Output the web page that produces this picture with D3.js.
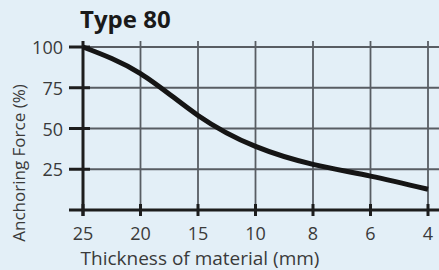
<!DOCTYPE html>
<html>
<head>
<meta charset="utf-8">
<script src="https://cdn.jsdelivr.net/npm/d3@7"></script>
<style>
  body { margin: 0; background: #e3eff7; }
  svg { display: block; }
  text { font-family: "Open Sans", "DejaVu Sans", sans-serif; fill: #3a3a3a; }
</style>
</head>
<body>
<div id="chart"></div>
<script>
// thickness categories (mm) along the x axis, left to right
var thickness = ["25", "20", "15", "10", "8", "6", "4"];
// anchoring force in percent
var force = [100, 83.7, 58, 39, 28, 20.8, 12.7];
var yTicks = [25, 50, 75, 100];

var width = 439, height = 270;
var margin = { top: 47, right: 11, bottom: 60, left: 83 };

var svg = d3.select("#chart")
    .append("svg")
    .attr("width", width)
    .attr("height", height);

var x = d3.scalePoint().domain(thickness).range([margin.left, width - margin.right]);
var y = d3.scaleLinear().domain([0, 100]).range([height - margin.bottom, margin.top]);

var gridColor = "#585d63";
var axisColor = "#1d1d1d";

// vertical grid lines
svg.append("g")
    .selectAll("line")
    .data(thickness.slice(1))
    .enter()
    .append("line")
    .attr("x1", d => x(d)).attr("x2", d => x(d))
    .attr("y1", y(100) - 6).attr("y2", y(0))
    .attr("stroke", gridColor)
    .attr("stroke-width", 1.8);

// horizontal grid lines
svg.append("g")
    .selectAll("line")
    .data(yTicks)
    .enter()
    .append("line")
    .attr("x1", x("25")).attr("x2", width)
    .attr("y1", d => y(d)).attr("y2", d => y(d))
    .attr("stroke", gridColor)
    .attr("stroke-width", 1.8);

// left axis line and ticks
svg.append("line")
    .attr("x1", x("25")).attr("x2", x("25"))
    .attr("y1", y(100) - 6).attr("y2", y(0) + 6)
    .attr("stroke", axisColor)
    .attr("stroke-width", 3);

svg.append("g")
    .selectAll("line")
    .data(yTicks)
    .enter()
    .append("line")
    .attr("x1", x("25") - 14).attr("x2", x("25") + 7)
    .attr("y1", d => y(d)).attr("y2", d => y(d))
    .attr("stroke", axisColor)
    .attr("stroke-width", 3);

// bottom axis line and ticks
svg.append("line")
    .attr("x1", x("25") - 14).attr("x2", width)
    .attr("y1", y(0)).attr("y2", y(0))
    .attr("stroke", axisColor)
    .attr("stroke-width", 3);

svg.append("g")
    .selectAll("line")
    .data(thickness)
    .enter()
    .append("line")
    .attr("x1", d => x(d)).attr("x2", d => x(d))
    .attr("y1", y(0) - 6).attr("y2", y(0) + 6)
    .attr("stroke", axisColor)
    .attr("stroke-width", 3);

// tick labels
svg.append("g")
    .selectAll("text")
    .data(yTicks)
    .enter()
    .append("text")
    .attr("x", 63)
    .attr("y", d => y(d) + 7)
    .attr("text-anchor", "end")
    .style("font-size", "18px")
    .text(d => d);

svg.append("g")
    .selectAll("text")
    .data(thickness)
    .enter()
    .append("text")
    .attr("x", d => x(d))
    .attr("y", 240)
    .attr("text-anchor", "middle")
    .style("font-size", "18px")
    .text(d => d);

// the curve
var line = d3.line()
    .x((d, i) => x(thickness[i]))
    .y(d => y(d))
    .curve(d3.curveNatural);

svg.append("path")
    .datum(force)
    .attr("d", line)
    .attr("fill", "none")
    .attr("stroke", "#151515")
    .attr("stroke-width", 5);

// titles
svg.append("text")
    .attr("x", 80)
    .attr("y", 28)
    .style("font-size", "24px")
    .style("font-weight", "bold")
    .style("fill", "#1a1a1a")
    .text("Type 80");

svg.append("text")
    .attr("x", 200)
    .attr("y", 265)
    .attr("text-anchor", "middle")
    .style("font-size", "19px")
    .text("Thickness of material (mm)");

svg.append("text")
    .attr("text-anchor", "middle")
    .attr("transform", "translate(25,163)rotate(-90)")
    .style("font-size", "17px")
    .text("Anchoring Force (%)");
</script>
</body>
</html>
